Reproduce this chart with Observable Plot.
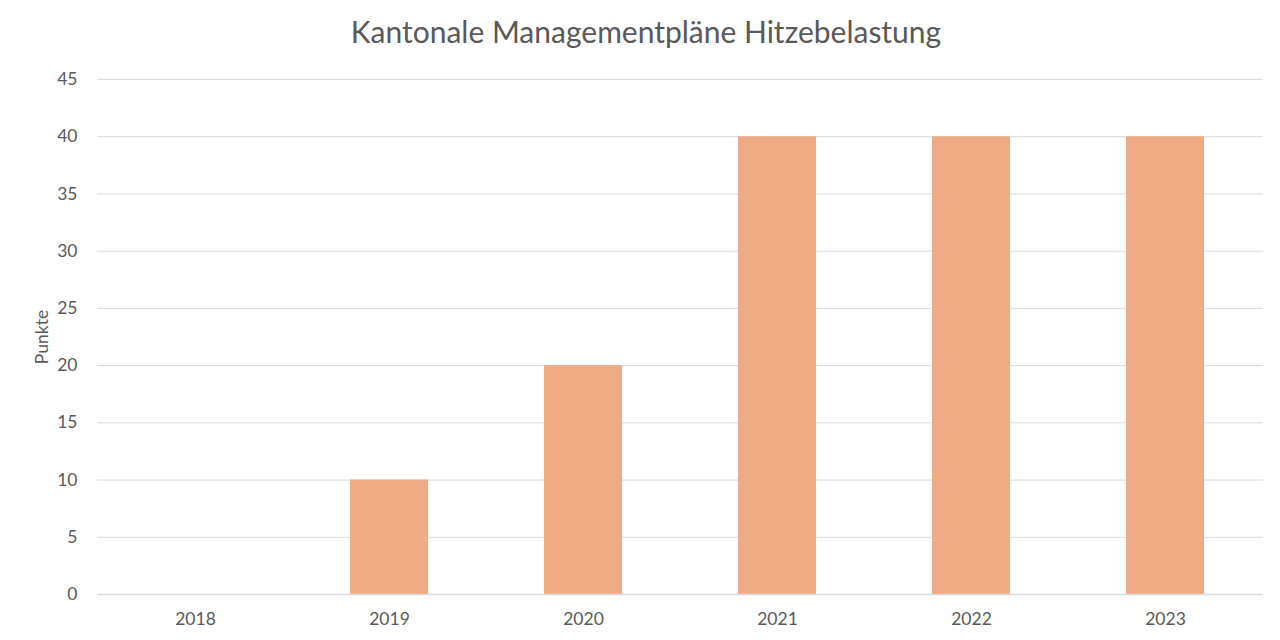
<!DOCTYPE html>
<html><head><meta charset="utf-8">
<script src="https://cdn.jsdelivr.net/npm/d3@7"></script>
<script src="https://cdn.jsdelivr.net/npm/@observablehq/plot@0.6"></script>
<style>
body{margin:0;background:#fff;font-family:Lato,"Open Sans",sans-serif;}
#title{height:60px;line-height:62px;text-align:center;font-size:30px;color:#595959;padding-left:12px;box-sizing:border-box;}
</style>
</head><body>
<div id="title">Kantonale Managementpläne Hitzebelastung</div>
<div id="chart"></div>
<script>
const years = ["2018", "2019", "2020", "2021", "2022", "2023"];
const points = [0, 10, 20, 40, 40, 40];
const yTicks = [0, 5, 10, 15, 20, 25, 30, 35, 40, 45];
const data = years.map((y, i) => ({year: y, value: points[i]}));

const chart = Plot.plot({
  width: 1280,
  height: 580,
  marginTop: 19,
  marginBottom: 46,
  marginLeft: 97,
  marginRight: 17,
  style: {fontFamily: "Lato, 'Open Sans', sans-serif", fontSize: "17.5px", color: "#595959", background: "#fff"},
  x: {domain: years, paddingInner: 0.6, paddingOuter: 0.3, align: 0.5, label: null, tickSize: 0, tickPadding: 18},
  y: {domain: [0, 45], ticks: yTicks, label: "Punkte", labelAnchor: "center", labelOffset: 62, labelArrow: "none", tickSize: 0, tickPadding: 20, tickFormat: d => String(d)},
  marks: [
    Plot.gridY(yTicks.filter(t => t > 0), {stroke: "#d9d9d9", strokeOpacity: 1, strokeWidth: 1}),
    Plot.barY(data, {x: "year", y: "value", fill: "#efab83"}),
    Plot.ruleY([0], {stroke: "#d9d9d9", strokeWidth: 1.5})
  ]
});
document.getElementById("chart").appendChild(chart);
</script>
</body></html>
